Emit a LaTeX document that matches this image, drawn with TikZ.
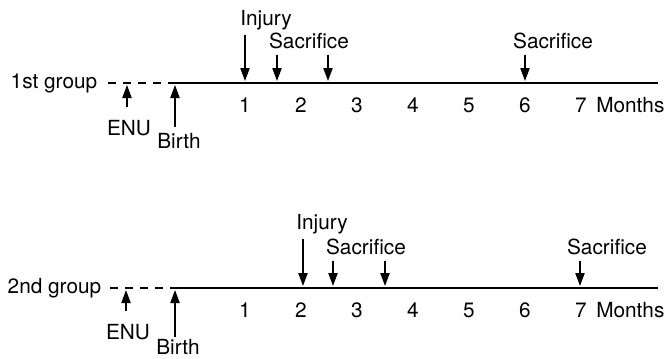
\documentclass[tikz,border=0pt]{standalone}
\usepackage{fontspec}
\setmainfont{TeX Gyre Heros}
\usetikzlibrary{positioning,arrows.meta}

\begin{document}
\begin{tikzpicture}[x=0.5pt,y=-0.5pt,>={Triangle[length=6.5pt,width=4.6pt]},line width=0.75pt,
        label/.style={inner sep=0pt,font=\fontsize{10.4}{12}\selectfont},
        event/.style={->,shorten >=1pt,shorten <=2pt},
        before/.style={dash pattern=on 4pt off 3.5pt}]
        \useasboundingbox (0,0) rectangle (666,359);
        % 1st group
        \node[label,anchor=east] (group1) at (98,83) {1st group};
        \coordinate (birth1) at (175,83);
        \coordinate (end1) at (658,83);
        \draw[before] ([xshift=5pt]group1.east) -- (birth1);
        \draw (birth1) -- (end1);
        \foreach \m in {1,...,7}
            \node[label] (month1\m) at (189+56*\m,105) {\m};
        \node[label,right=4pt of month17] (months1) {Months};
        \node[label] (enu1) at (129,128) {ENU};
        \node[label] (born1) at (179,141) {Birth};
        \coordinate (enutip1) at (127,83);
        \draw[event,shorten <=6pt] (enu1.north -| enutip1) -- (enutip1);
        \draw[event,shorten <=3pt] (born1.north -| birth1) -- (birth1);
        \node[label] (injury1) at (266,20) {Injury};
        \coordinate (injtip1) at (245,83);
        \draw[event] (injury1.south -| injtip1) -- (injtip1);
        \node[label] (sacrifice1) at (309,41) {Sacrifice};
        \coordinate (sactip1a) at (277,83);
        \coordinate (sactip1b) at (328,83);
        \draw[event,shorten <=2.5pt] (sacrifice1.south -| sactip1a) -- (sactip1a);
        \draw[event,shorten <=2.5pt] (sacrifice1.south -| sactip1b) -- (sactip1b);
        \node[label] (sacrifice1c) at (553,41) {Sacrifice};
        \coordinate (sactip1c) at (525,83);
        \draw[event,shorten <=2.5pt] (sacrifice1c.south -| sactip1c) -- (sactip1c);
        % 2nd group
        \node[label,anchor=east] (group2) at (102,288) {2nd group};
        \coordinate (birth2) at (175,288);
        \coordinate (end2) at (658,288);
        \draw[before] ([xshift=4pt]group2.east) -- (birth2);
        \draw (birth2) -- (end2);
        \foreach \m in {1,...,7}
            \node[label] (month2\m) at (189+56*\m,310) {\m};
        \node[label,right=4pt of month27] (months2) {Months};
        \node[label] (enu2) at (128,332) {ENU};
        \node[label] (born2) at (178,347) {Birth};
        \coordinate (enutip2) at (126,288);
        \draw[event,shorten <=6pt] (enu2.north -| enutip2) -- (enutip2);
        \draw[event,shorten <=1pt] (born2.north -| birth2) -- (birth2);
        \node[label] (injury2) at (322,224) {Injury};
        \coordinate (injtip2) at (303,288);
        \draw[event] (injury2.south -| injtip2) -- (injtip2);
        \node[label] (sacrifice2) at (366,247) {Sacrifice};
        \coordinate (sactip2a) at (333,288);
        \coordinate (sactip2b) at (385,288);
        \draw[event,shorten <=2.5pt] (sacrifice2.south -| sactip2a) -- (sactip2a);
        \draw[event,shorten <=2.5pt] (sacrifice2.south -| sactip2b) -- (sactip2b);
        \node[label] (sacrifice2c) at (607,247) {Sacrifice};
        \coordinate (sactip2c) at (580,288);
        \draw[event,shorten <=2.5pt] (sacrifice2c.south -| sactip2c) -- (sactip2c);
    \end{tikzpicture}
\end{document}
